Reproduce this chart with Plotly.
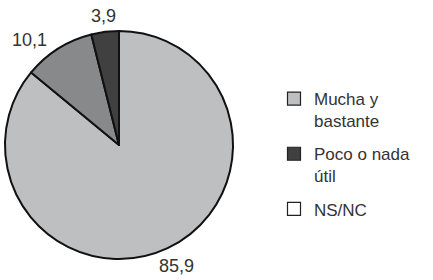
import math
import plotly.graph_objects as go

# Data
slice_labels = ["Mucha y bastante", "Otros", "Poco o nada útil"]
slice_values = [85.9, 10.1, 3.9]
slice_text = ["85,9", "10,1", "3,9"]
slice_colors = ["#bebfc1", "#88898b", "#404040"]

legend_names = ["Mucha y<br>bastante", "Poco o nada<br>útil", "NS/NC"]
legend_colors = ["#bebfc1", "#404040", "#ffffff"]

# Layout / style settings
W, H = 433, 280
ml, mr, mt, mb = 5, 0, 31, 21
plot_w = W - ml - mr
plot_h = H - mt - mb
diam = plot_h
label_gap = 20                      # distance from rim to label centre (px)
label_nudge = [(0, 0), (-18, 8), (1, 4)]   # fine placement (px, y down)

fig = go.Figure()
fig.add_trace(go.Pie(
    labels=slice_labels,
    values=slice_values,
    sort=False,
    direction="clockwise",
    rotation=0,
    marker=dict(colors=slice_colors, line=dict(color="#111111", width=2)),
    textinfo="none",
    domain=dict(x=[0, diam / plot_w], y=[0, 1]),
    showlegend=False,
    hoverinfo="label+value",
))

# Outside value labels, placed at each slice's mid-angle
cx_px = ml + diam / 2
cy_px = mt + diam / 2
R = diam / 2
total = sum(slice_values)
cum = 0.0
for val, txt, (nx, ny) in zip(slice_values, slice_text, label_nudge):
    mid = (cum + val / 2) / total * 2 * math.pi
    cum += val
    px = cx_px + (R + label_gap) * math.sin(mid) + nx
    py = cy_px - (R + label_gap) * math.cos(mid) + ny
    fig.add_annotation(
        x=(px - ml) / plot_w, y=1 - (py - mt) / plot_h,
        xref="paper", yref="paper", text=txt, showarrow=False,
        xanchor="center", yanchor="middle",
        font=dict(size=18, color="#333333", family="Liberation Sans, Arial, sans-serif"),
    )

for name, col in zip(legend_names, legend_colors):
    fig.add_trace(go.Scatter(
        x=[None], y=[None], mode="markers", name=name,
        marker=dict(symbol="square", size=13, color=col,
                    line=dict(color="#222222", width=1.2)),
        legendgroup=name,
    ))

fig.update_layout(
    width=W, height=H,
    margin=dict(l=ml, r=mr, t=mt, b=mb, autoexpand=False),
    paper_bgcolor="white", plot_bgcolor="white",
    font=dict(family="Liberation Sans, Arial, sans-serif", size=18, color="#333333"),
    xaxis=dict(visible=False), yaxis=dict(visible=False),
    legend=dict(xref="paper", yref="paper",
                x=(274 - ml) / plot_w, y=1 - (81 - mt) / plot_h,
                xanchor="left", yanchor="top", valign="top", maxheight=1,
                tracegroupgap=8, bgcolor="rgba(0,0,0,0)",
                font=dict(size=17, color="#333333")),
)

fig.write_html("out.html", config={"displayModeBar": False},
               post_script="document.body.style.margin='0';document.body.style.overflow='hidden';")
